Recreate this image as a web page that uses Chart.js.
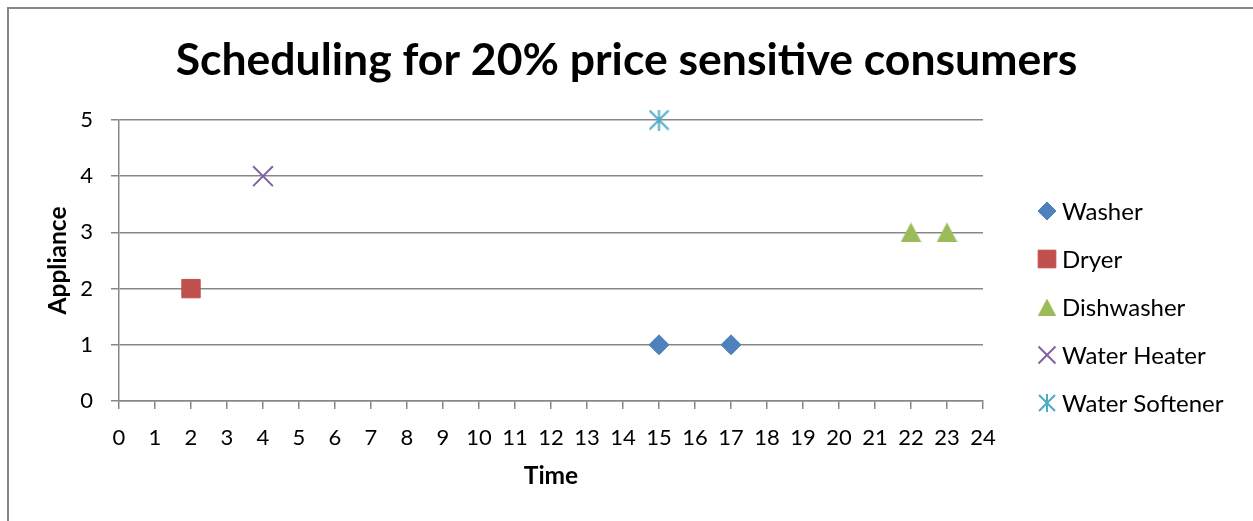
<!DOCTYPE html>
<html>
<head>
<meta charset="utf-8">
<title>Scheduling for 20% price sensitive consumers</title>
<script src="https://cdn.jsdelivr.net/npm/chart.js@4/dist/chart.umd.min.js"></script>
<style>
  html, body { margin: 0; padding: 0; background: #ffffff; overflow: hidden; }
  #frame {
    position: absolute; left: 7px; top: 7px; width: 1300px; height: 600px;
    border-left: 2px solid #878787; border-top: 2px solid #878787;
  }
  #wrap { position: absolute; left: 0; top: 0; width: 1253px; height: 521px; }
</style>
</head>
<body>
<div id="frame"></div>
<div id="wrap"><canvas id="chart" width="1253" height="521"></canvas></div>
<script>
// Hour of day (x) and appliance number (y) for each scheduled run
const seriesNames = ['Washer', 'Dryer', 'Dishwasher', 'Water Heater', 'Water Softener'];
const washerTime = [15, 17];
const washerAppliance = [1, 1];
const dryerTime = [2];
const dryerAppliance = [2];
const dishwasherTime = [22, 23];
const dishwasherAppliance = [3, 3];
const heaterTime = [4];
const heaterAppliance = [4];
const softenerTime = [15];
const softenerAppliance = [5];

const timeTicks = [0, 24];      // x axis range, one tick per hour
const applianceTicks = [0, 5];  // y axis range, one tick per appliance

const seriesColors = ['#4F81BD', '#C0504D', '#9BBB59', '#8064A2', '#4BACC6'];
const FONT = "Lato, 'Open Sans', 'DejaVu Sans', sans-serif";
const GRID = '#878787';

function pairs(xs, ys) { return xs.map((x, i) => ({ x: x, y: ys[i] })); }

// Triangle marker centred on its bounding box
function triangleImage(w, h, color) {
  const c = document.createElement('canvas');
  c.width = w; c.height = h;
  const g = c.getContext('2d');
  g.fillStyle = color;
  g.beginPath();
  g.moveTo(w / 2, 0);
  g.lineTo(w, h);
  g.lineTo(0, h);
  g.closePath();
  g.fill();
  return c;
}

// Six-armed asterisk marker: an X plus a vertical stroke
function asteriskImage(s, color) {
  const c = document.createElement('canvas');
  c.width = s + 2; c.height = s + 2;
  const g = c.getContext('2d');
  g.strokeStyle = color;
  g.lineWidth = 2;
  g.lineCap = 'butt';
  g.beginPath();
  g.moveTo(1, 1); g.lineTo(s + 1, s + 1);
  g.moveTo(s + 1, 1); g.lineTo(1, s + 1);
  g.moveTo(s / 2 + 1, 0); g.lineTo(s / 2 + 1, s + 2);
  g.stroke();
  return c;
}

const triBig = triangleImage(21, 20, seriesColors[2]);
const triSmall = triangleImage(18, 17, seriesColors[2]);
const starBig = asteriskImage(19, seriesColors[4]);
const starSmall = asteriskImage(16, seriesColors[4]);

const datasets = [
  { label: seriesNames[0], data: pairs(washerTime, washerAppliance),
    pointStyle: 'rectRot', pointRadius: 10, legendStyle: 'rectRot', legendRadius: 9,
    backgroundColor: seriesColors[0], borderColor: seriesColors[0], borderWidth: 1 },
  { label: seriesNames[1], data: pairs(dryerTime, dryerAppliance),
    pointStyle: 'rect', pointRadius: 13, legendStyle: 'rect', legendRadius: 12.5,
    backgroundColor: seriesColors[1], borderColor: seriesColors[1], borderWidth: 1 },
  { label: seriesNames[2], data: pairs(dishwasherTime, dishwasherAppliance),
    pointStyle: triBig, pointRadius: 10, legendStyle: triSmall, legendRadius: 9,
    backgroundColor: seriesColors[2], borderColor: seriesColors[2], borderWidth: 1 },
  { label: seriesNames[3], data: pairs(heaterTime, heaterAppliance),
    pointStyle: 'crossRot', pointRadius: 14, legendStyle: 'crossRot', legendRadius: 12,
    backgroundColor: seriesColors[3], borderColor: seriesColors[3], borderWidth: 2 },
  { label: seriesNames[4], data: pairs(softenerTime, softenerAppliance),
    pointStyle: starBig, pointRadius: 10, legendStyle: starSmall, legendRadius: 9,
    backgroundColor: seriesColors[4], borderColor: seriesColors[4], borderWidth: 2 }
];
datasets.forEach(d => { d.pointHoverRadius = d.pointRadius; d.showLine = false; d.clip = false; });

// Legend column to the right of the plot
const sideLegend = {
  id: 'sideLegend',
  afterDraw(chart) {
    const ctx = chart.ctx;
    const markX = 1047, textX = 1062, firstY = 211, step = 48;
    chart.data.datasets.forEach((ds, i) => {
      const y = firstY + i * step;
      ctx.save();
      ctx.fillStyle = ds.backgroundColor;
      ctx.strokeStyle = ds.borderColor;
      ctx.lineWidth = ds.borderWidth;
      Chart.helpers.drawPoint(ctx, {
        pointStyle: ds.legendStyle, radius: ds.legendRadius, rotation: 0, borderWidth: ds.borderWidth
      }, markX, y);
      ctx.fillStyle = '#000000';
      ctx.font = '24px ' + FONT;
      ctx.textAlign = 'left';
      ctx.textBaseline = 'middle';
      ctx.fillText(ds.label, textX, y + 1);
      ctx.restore();
    });
  }
};

new Chart(document.getElementById('chart'), {
  type: 'scatter',
  data: { datasets: datasets },
  plugins: [sideLegend],
  options: {
    responsive: false,
    animation: false,
    devicePixelRatio: 1,
    layout: { padding: 0 },
    plugins: {
      legend: { display: false },
      tooltip: { enabled: false },
      title: {
        display: true,
        text: 'Scheduling for 20% price sensitive consumers',
        color: '#000000',
        font: { family: FONT, size: 44.5, weight: 'bold', lineHeight: 1.2 },
        padding: { top: 34.3, bottom: 32.3 }
      }
    },
    scales: {
      x: {
        type: 'linear',
        min: timeTicks[0], max: timeTicks[1],
        ticks: { stepSize: 1, autoSkip: false, maxRotation: 0, color: '#000000',
                 font: { family: FONT, size: 22 }, padding: 16 },
        grid: { drawOnChartArea: false, drawTicks: true, tickLength: 8, color: GRID, lineWidth: 1.5 },
        border: { display: true, color: GRID, width: 1.5 },
        title: { display: true, text: 'Time', color: '#000000',
                 font: { family: FONT, size: 24.5, weight: 'bold', lineHeight: 1.2 },
                 padding: { top: 0, bottom: 30 } },
        afterFit(scale) { scale.height = 120; }
      },
      y: {
        min: applianceTicks[0], max: applianceTicks[1],
        ticks: { stepSize: 1, color: '#000000', font: { family: FONT, size: 22 }, padding: 18 },
        grid: { color: GRID, lineWidth: 1.5, tickLength: 8 },
        border: { display: true, color: GRID, width: 1.5 },
        title: { display: true, text: 'Appliance', color: '#000000',
                 font: { family: FONT, size: 24.5, weight: 'bold', lineHeight: 1.2 },
                 padding: { top: 43.5, bottom: 0 } },
        afterFit(scale) { scale.width = 119; }
      },
      // empty right-hand axis that reserves the legend column
      legendSpace: {
        type: 'linear', position: 'right', axis: 'y',
        ticks: { display: false },
        grid: { display: false },
        border: { display: false },
        afterFit(scale) { scale.width = 270; }
      }
    }
  }
});
</script>
</body>
</html>
